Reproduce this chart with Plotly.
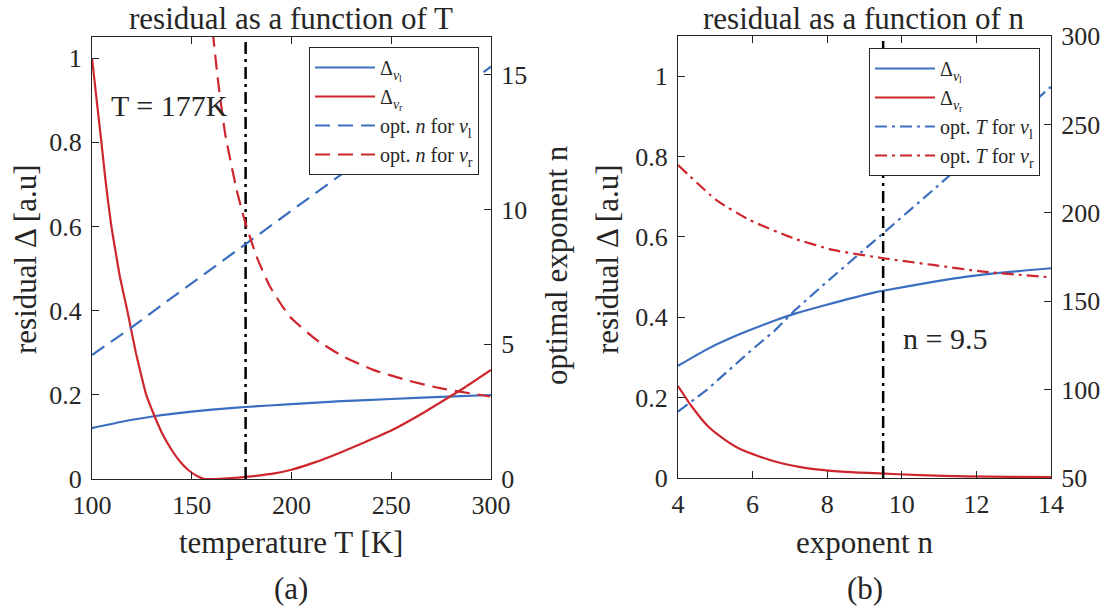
import plotly.graph_objects as go

# ---------------- data: panel (a) residual vs temperature ----------------
T_res = [100, 102, 104.7, 107, 109.7, 112, 114, 117.7, 119.4, 122, 124.5, 127.2, 131.4, 135, 139.8, 144, 148.1,
         153.1, 156.5, 162, 170, 177, 190, 200, 212, 224, 237, 250, 262, 274, 287, 300]
res_vr_T = [1.0, 0.915, 0.80, 0.70, 0.60, 0.535, 0.48, 0.40, 0.36, 0.30, 0.25, 0.20, 0.149, 0.11, 0.07, 0.042, 0.022,
            0.006, 0.0, 0.0, 0.002, 0.005, 0.012, 0.022, 0.04, 0.062, 0.088, 0.115, 0.146, 0.18, 0.218, 0.259]
T_vl = [100, 115, 131, 150, 168, 177, 200, 225, 250, 275, 300]
res_vl_T = [0.121, 0.136, 0.149, 0.160, 0.168, 0.171, 0.178, 0.185, 0.190, 0.195, 0.1995]
T_nl = [100, 119.4, 138.4, 160, 177, 189.2, 200, 225, 236, 250, 275, 300]
opt_n_vl = [4.6, 5.6, 6.64, 7.8, 8.72, 9.37, 9.95, 11.3, 11.96, 12.65, 13.95, 15.3]
T_nr = [160.5, 163.3, 166.7, 172.5, 176.7, 182.5, 189.2, 199.2, 212.6, 226, 241, 257.7, 274.4, 299.5]
opt_n_vr = [16.6, 14.7, 12.83, 10.73, 9.55, 8.25, 7.14, 6.02, 5.16, 4.54, 4.05, 3.67, 3.37, 3.06]
T_OPT = 177

# ---------------- data: panel (b) residual vs exponent ----------------
n_vl = [4.0, 4.81, 5.71, 6.60, 7.14, 7.94, 9.28, 9.5, 10.84, 11.74, 12.9, 14.0]
res_vl_n = [0.279, 0.322, 0.360, 0.392, 0.409, 0.430, 0.462, 0.466, 0.488, 0.501, 0.513, 0.522]
n_vr = [4.0, 4.37, 4.81, 5.26, 5.71, 6.6, 7.49, 8.39, 9.28, 10.5, 11.74, 12.9, 14.0]
res_vr_n = [0.229, 0.178, 0.128, 0.095, 0.070, 0.041, 0.024, 0.016, 0.012, 0.007, 0.004, 0.003, 0.002]
n_T = [4.0, 4.81, 5.26, 5.98, 6.6, 7.14, 7.94, 8.75, 9.5, 10.84, 12.0, 13.0, 14.0]
opt_T_vl = [87.5, 100.5, 109.0, 122.5, 133.5, 145.0, 160.0, 174.5, 188.4, 212.9, 234.5, 253.0, 271.3]
n_Tr = [4.0, 5.03, 5.92, 7.09, 8.16, 9.5, 10.84, 12.18, 14.0]
opt_T_vr = [227, 207.2, 195.9, 185.6, 179, 174.3, 170.5, 166.7, 163.5]
N_OPT = 9.5

# ---------------- text ----------------
title_a = "residual as a function of T"
title_b = "residual as a function of n"
xlab_a = "temperature T [K]"
xlab_b = "exponent n"
ylab_res = "residual Δ [a.u]"
ylab_n = "optimal exponent n"

BLUE = "#3B6EBF"
RED = "#CE262D"
INK = "#262626"
FONT = "Liberation Serif"
DASH = "15px,8px"
DASHDOT = "12px,5px,3px,5px"

lab_vl = "Δ<sub><i>v</i><sub>l</sub></sub>"
lab_vr = "Δ<sub><i>v</i><sub>r</sub></sub>"

fig = go.Figure()

# panel (a)
fig.add_trace(go.Scatter(x=T_vl, y=res_vl_T, mode="lines", line=dict(color=BLUE, width=2.2, shape="spline", smoothing=0.6),
                         name=lab_vl, legend="legend", xaxis="x", yaxis="y"))
fig.add_trace(go.Scatter(x=T_res, y=res_vr_T, mode="lines", line=dict(color=RED, width=2.2, shape="spline", smoothing=0.4),
                         name=lab_vr, legend="legend", xaxis="x", yaxis="y"))
fig.add_trace(go.Scatter(x=T_nl, y=opt_n_vl, mode="lines", line=dict(color=BLUE, width=2.2, dash=DASH),
                         name="opt. <i>n</i> for <i>v</i><sub>l</sub>", legend="legend", xaxis="x", yaxis="y2"))
fig.add_trace(go.Scatter(x=T_nr, y=opt_n_vr, mode="lines", line=dict(color=RED, width=2.2, dash=DASH, shape="spline", smoothing=0.5),
                         name="opt. <i>n</i> for <i>v</i><sub>r</sub>", legend="legend", xaxis="x", yaxis="y2"))
fig.add_trace(go.Scatter(x=[T_OPT, T_OPT], y=[0, 1.05], mode="lines", line=dict(color="black", width=2.5, dash=DASHDOT),
                         showlegend=False, xaxis="x", yaxis="y"))

# panel (b)
fig.add_trace(go.Scatter(x=n_vl, y=res_vl_n, mode="lines", line=dict(color=BLUE, width=2.2, shape="spline", smoothing=0.6),
                         name=lab_vl, legend="legend2", xaxis="x2", yaxis="y3"))
fig.add_trace(go.Scatter(x=n_vr, y=res_vr_n, mode="lines", line=dict(color=RED, width=2.2, shape="spline", smoothing=0.6),
                         name=lab_vr, legend="legend2", xaxis="x2", yaxis="y3"))
fig.add_trace(go.Scatter(x=n_T, y=opt_T_vl, mode="lines", line=dict(color=BLUE, width=2.2, dash=DASHDOT),
                         name="opt. <i>T</i> for <i>v</i><sub>l</sub>", legend="legend2", xaxis="x2", yaxis="y4"))
fig.add_trace(go.Scatter(x=n_Tr, y=opt_T_vr, mode="lines", line=dict(color=RED, width=2.2, dash=DASHDOT, shape="spline", smoothing=0.5),
                         name="opt. <i>T</i> for <i>v</i><sub>r</sub>", legend="legend2", xaxis="x2", yaxis="y4"))
fig.add_trace(go.Scatter(x=[N_OPT, N_OPT], y=[0, 1.1], mode="lines", line=dict(color="black", width=2.5, dash=DASHDOT),
                         showlegend=False, xaxis="x2", yaxis="y3"))

W, H = 1104, 614
def px(v): return v / W
def py(v): return 1 - v / H

ax_common = dict(showline=True, linecolor=INK, linewidth=1, ticks="inside", ticklen=7, tickcolor=INK,
                 showgrid=False, zeroline=False, automargin=False,
                 tickfont=dict(size=26, color=INK, family=FONT))

leg_common = dict(xanchor="right", yanchor="top", bgcolor="white", bordercolor=INK, borderwidth=1,
                  font=dict(size=20, family=FONT, color=INK), tracegroupgap=0, itemwidth=60)

fig.update_layout(
    width=W, height=H, autosize=False,
    margin=dict(l=0, r=0, t=0, b=0, autoexpand=False),
    paper_bgcolor="white", plot_bgcolor="white",
    font=dict(family=FONT, color=INK),
    hovermode=False,
    xaxis=dict(domain=[px(92), px(491)], anchor="y", range=[100, 300], tickvals=[100, 150, 200, 250, 300],
               mirror="ticks", ticklabelstandoff=3, **ax_common),
    yaxis=dict(domain=[py(479), py(37)], anchor="x", range=[0, 1.05], tickvals=[0, 0.2, 0.4, 0.6, 0.8, 1],
               ticktext=["0", "0.2", "0.4", "0.6", "0.8", "1"], ticklabelstandoff=4, **ax_common),
    yaxis2=dict(overlaying="y", side="right", anchor="x", range=[0, 16.4], tickvals=[0, 5, 10, 15],
                ticklabelstandoff=4, **ax_common),
    xaxis2=dict(domain=[px(678), px(1051)], anchor="y3", range=[4, 14], tickvals=[4, 6, 8, 10, 12, 14],
                mirror="ticks", ticklabelstandoff=3, **ax_common),
    yaxis3=dict(domain=[py(478), py(36)], anchor="x2", range=[0, 1.1], tickvals=[0, 0.2, 0.4, 0.6, 0.8, 1],
                ticktext=["0", "0.2", "0.4", "0.6", "0.8", "1"], ticklabelstandoff=4, **ax_common),
    yaxis4=dict(overlaying="y3", side="right", anchor="x2", range=[50, 300], tickvals=[50, 100, 150, 200, 250, 300],
                ticklabelstandoff=4, **ax_common),
    legend=dict(x=px(479), y=py(47), **leg_common),
    legend2=dict(x=px(1040), y=py(48), **leg_common),
    showlegend=True,
)

ann = [
    dict(text=title_a, x=px(291), y=py(18), size=31),
    dict(text=title_b, x=px(864), y=py(18), size=31),
    dict(text=xlab_a, x=px(291), y=py(542), size=31),
    dict(text=xlab_b, x=px(864), y=py(542), size=31),
    dict(text="(a)", x=px(291), y=py(588), size=31),
    dict(text="(b)", x=px(865), y=py(588), size=31),
    dict(text=ylab_res, x=px(25), y=py(259), size=31, angle=-90),
    dict(text=ylab_n, x=px(556), y=py(265), size=31, angle=-90),
    dict(text=ylab_res, x=px(607), y=py(259), size=31, angle=-90),
]
for a in ann:
    fig.add_annotation(text=a["text"], x=a["x"], y=a["y"], xref="paper", yref="paper",
                       xanchor="center", yanchor="middle", showarrow=False, textangle=a.get("angle", 0),
                       font=dict(size=a["size"], family=FONT, color=INK))

fig.add_annotation(text="T = 177K", x=px(230), y=py(106), xref="paper", yref="paper", xanchor="right", yanchor="middle",
                   showarrow=False, font=dict(size=30, family=FONT, color=INK))
fig.add_annotation(text="n = 9.5", x=px(901), y=py(338), xref="paper", yref="paper", xanchor="left", yanchor="middle",
                   showarrow=False, font=dict(size=30, family=FONT, color=INK))

fig.write_html("out.html", post_script="document.body.style.margin='0';",
               config={"displayModeBar": False, "staticPlot": True})
